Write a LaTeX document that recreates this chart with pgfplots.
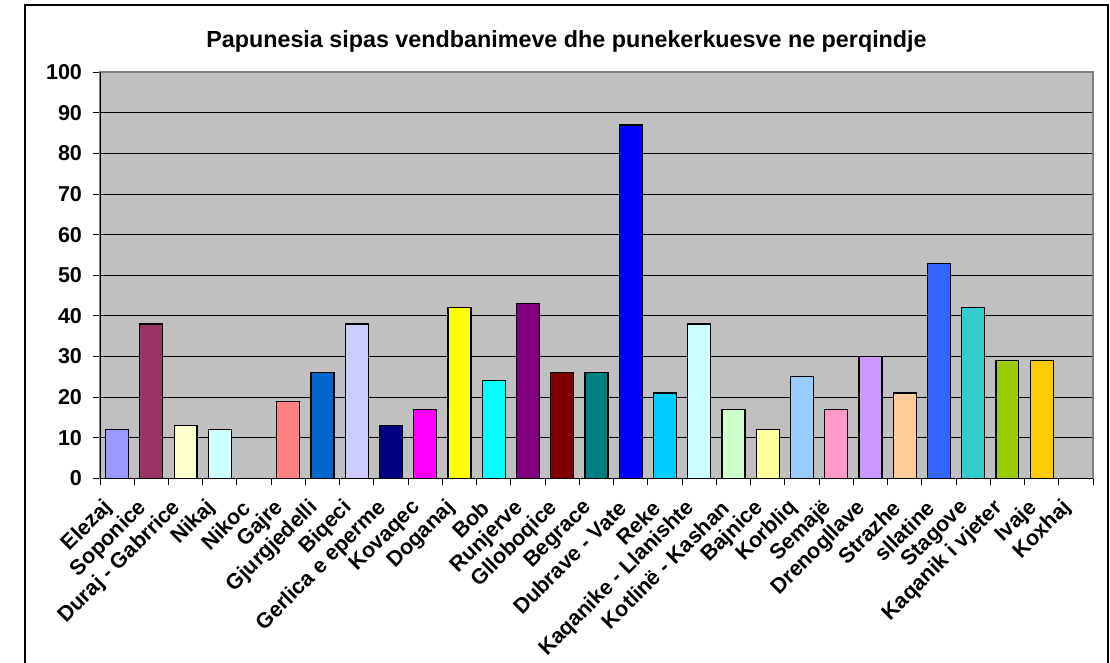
\documentclass[border=0pt]{standalone}
\usepackage{fontspec}
\setmainfont{Liberation Sans}
\usepackage{pgfplots}
\pgfplotsset{compat=1.18}

% Excel 2003 palette
\definecolor{plotgray}{HTML}{C0C0C0}
\definecolor{bordergray}{HTML}{808080}
\definecolor{c1}{HTML}{9999FF}
\definecolor{c2}{HTML}{993366}
\definecolor{c3}{HTML}{FFFFCC}
\definecolor{c4}{HTML}{CCFFFF}
\definecolor{c5}{HTML}{660066}
\definecolor{c6}{HTML}{FF8080}
\definecolor{c7}{HTML}{0066CC}
\definecolor{c8}{HTML}{CCCCFF}
\definecolor{c9}{HTML}{000080}
\definecolor{c10}{HTML}{FF00FF}
\definecolor{c11}{HTML}{FFFF00}
\definecolor{c12}{HTML}{00FFFF}
\definecolor{c13}{HTML}{800080}
\definecolor{c14}{HTML}{800000}
\definecolor{c15}{HTML}{008080}
\definecolor{c16}{HTML}{0000FF}
\definecolor{c17}{HTML}{00CCFF}
\definecolor{c18}{HTML}{CCFFFF}
\definecolor{c19}{HTML}{CCFFCC}
\definecolor{c20}{HTML}{FFFF99}
\definecolor{c21}{HTML}{99CCFF}
\definecolor{c22}{HTML}{FF99CC}
\definecolor{c23}{HTML}{CC99FF}
\definecolor{c24}{HTML}{FFCC99}
\definecolor{c25}{HTML}{3366FF}
\definecolor{c26}{HTML}{33CCCC}
\definecolor{c27}{HTML}{99CC00}
\definecolor{c28}{HTML}{FFCC00}
\definecolor{c29}{HTML}{FF9900}

\begin{document}
\begin{tikzpicture}
\useasboundingbox (-50bp,-92.35bp) rectangle (505bp,239.15bp);
\draw[black, line width=0.9bp] (-37.5bp,-120bp) rectangle (504bp,236.65bp);
\node[font=\bfseries\fontsize{11.7}{14}\selectfont] at (233.25bp,218.65bp)
  {Papunesia sipas vendbanimeve dhe punekerkuesve ne perqindje};
\begin{axis}[
  at={(0,0)}, anchor=south west,
  scale only axis, width=496.5bp, height=203bp,
  xmin=-0.5, xmax=28.5, ymin=0, ymax=100,
  ytick={0,10,...,100},
  xtick={0,...,28},
  xticklabels={Elezaj, Soponice, Duraj - Gabrrice, Nikaj, Nikoc, Gajre, Gjurgjedelli, Biqeci, Gerlica e eperme, Kovaqec, Doganaj, Bob, Runjerve, Glloboqice, Begrace, Dubrave - Vate, Reke, Kaqanike - Llanishte, Kotlinë - Kashan, Bajnice, Korbliq, Semajë, Drenogllave, Strazhe, sllatine, Stagove, Kaqanik i vjeter, Ivaje, Koxhaj},
  minor xtick={-0.5,0.5,...,28.5},
  major x tick style={draw=none},
  tick align=outside, tick pos=left,
  major tick length=3.5bp, minor tick length=3.5bp,
  tick style={black, line width=0.5bp},
  ymajorgrids, grid style={black, line width=0.5bp},
  axis background/.style={fill=plotgray},
  axis line style={draw=bordergray, line width=0.8bp},
  /pgf/number format/assume math mode=true,
  y tick label style={font=\bfseries\fontsize{10.8}{12}\selectfont, xshift=-2bp},
  x tick label style={font=\bfseries\fontsize{10.8}{12}\selectfont, rotate=45, anchor=east, inner sep=1bp, yshift=-4bp, xshift=-8.5bp},
  every axis plot/.append style={ybar, bar width=0.67, bar shift=0pt, draw=black, line width=0.6bp},
]
\addplot[fill=c1]  coordinates {(0,12)};
\addplot[fill=c2]  coordinates {(1,38)};
\addplot[fill=c3]  coordinates {(2,13)};
\addplot[fill=c4]  coordinates {(3,12)};
\addplot[fill=c5, draw=none]  coordinates {(4,0)};
\addplot[fill=c6]  coordinates {(5,19)};
\addplot[fill=c7]  coordinates {(6,26)};
\addplot[fill=c8]  coordinates {(7,38)};
\addplot[fill=c9]  coordinates {(8,13)};
\addplot[fill=c10] coordinates {(9,17)};
\addplot[fill=c11] coordinates {(10,42)};
\addplot[fill=c12] coordinates {(11,24)};
\addplot[fill=c13] coordinates {(12,43)};
\addplot[fill=c14] coordinates {(13,26)};
\addplot[fill=c15] coordinates {(14,26)};
\addplot[fill=c16] coordinates {(15,87)};
\addplot[fill=c17] coordinates {(16,21)};
\addplot[fill=c18] coordinates {(17,38)};
\addplot[fill=c19] coordinates {(18,17)};
\addplot[fill=c20] coordinates {(19,12)};
\addplot[fill=c21] coordinates {(20,25)};
\addplot[fill=c22] coordinates {(21,17)};
\addplot[fill=c23] coordinates {(22,30)};
\addplot[fill=c24] coordinates {(23,21)};
\addplot[fill=c25] coordinates {(24,53)};
\addplot[fill=c26] coordinates {(25,42)};
\addplot[fill=c27] coordinates {(26,29)};
\addplot[fill=c28] coordinates {(27,29)};
\addplot[fill=c29, draw=none] coordinates {(28,0)};
\draw[black, line width=0.7bp] (rel axis cs:0,1) -- (rel axis cs:0,0) -- (rel axis cs:1,0);
\end{axis}
\end{tikzpicture}
\end{document}
